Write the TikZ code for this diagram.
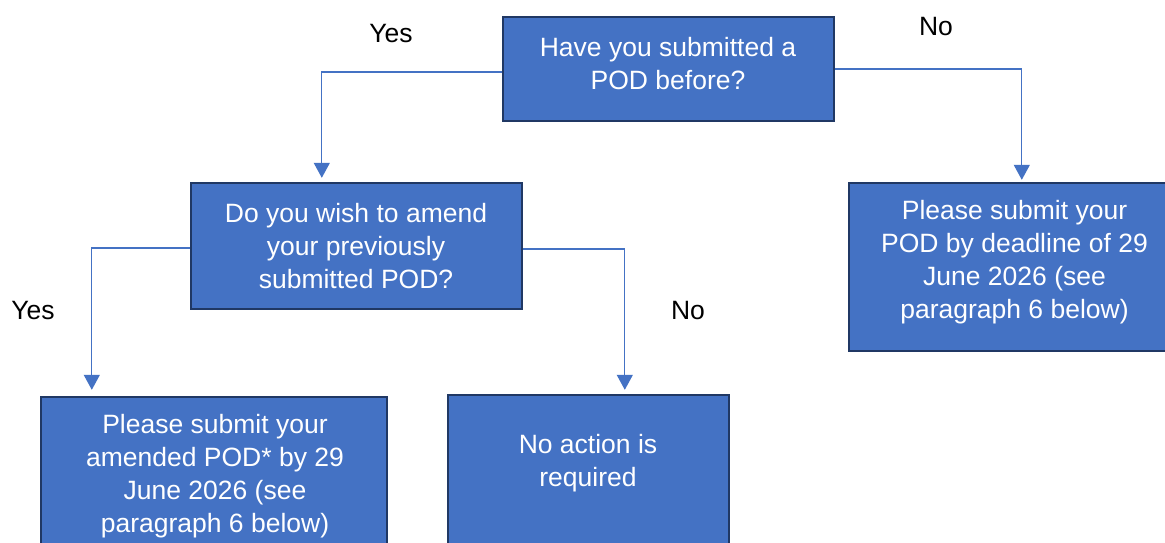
\documentclass[tikz,border=0pt]{standalone}
\usepackage{fontspec}
\setmainfont{Liberation Sans}
\usetikzlibrary{arrows.meta}
\definecolor{boxfill}{HTML}{4472C4}
\definecolor{boxline}{HTML}{203864}
\definecolor{conncol}{HTML}{4472C4}
\begin{document}
\begin{tikzpicture}[x=1pt,y=-1pt,
  box/.style={rectangle, fill=boxfill, draw=boxline, line width=2.4pt, inner sep=0pt},
  boxtext/.style={text=white, align=center, inner sep=0pt, font=\fontsize{26.5}{33}\selectfont},
  lbl/.style={text=black, inner sep=0pt, font=\fontsize{26.5}{33}\selectfont},
  conn/.style={draw=conncol, line width=1.3pt, -{Triangle[width=16pt,length=15pt]}}]
\useasboundingbox (0,0) rectangle (1165,542);
\fill[white] (0,0) rectangle (1165,542);
% boxes
\node[box, minimum width=331pt, minimum height=104pt] (b1) at (668.5,69) {};
\node[box, minimum width=331pt, minimum height=126pt] (b2) at (356.5,246) {};
\node[box, minimum width=331pt, minimum height=168pt] (b3) at (1014.5,267) {};
\node[box, minimum width=346pt, minimum height=168pt] (b4) at (214,481) {};
\node[box, minimum width=281pt, minimum height=168pt] (b5) at (588.5,479) {};
% texts
\node[boxtext] (t1) at (668,64) {Have you submitted a\\POD before?};
\node[boxtext] (t2) at (356,246) {Do you wish to amend\\your previously\\submitted POD?};
\node[boxtext] (t3) at (1014.5,262.5) {Please submit your\\POD by deadline of 29\\June 2026 (see\\paragraph 6 below)};
\node[boxtext] (t4) at (215,476) {Please submit your\\amended POD* by 29\\June 2026 (see\\paragraph 6 below)};
\node[boxtext] (t5) at (588,463) {No action is\\required};
% labels
\node[lbl] (l1) at (391,33.5) {Yes};
\node[lbl] (l2) at (936,26.5) {No};
\node[lbl] (l3) at (33,310.5) {Yes};
\node[lbl] (l4) at (688,310.5) {No};
% connectors
\draw[conn] ([yshift=-3pt]b1.west) -| ([xshift=132pt,yshift=4pt]b2.north west);
\draw[conn] (b1.east) -| ([xshift=174pt,yshift=2pt]b3.north west);
\draw[conn] ([yshift=-2pt]b2.west) -| ([xshift=52pt,yshift=6pt]b4.north west);
\draw[conn] ([yshift=-3pt]b2.east) -| ([xshift=178pt,yshift=4pt]b5.north west);
\end{tikzpicture}
\end{document}
